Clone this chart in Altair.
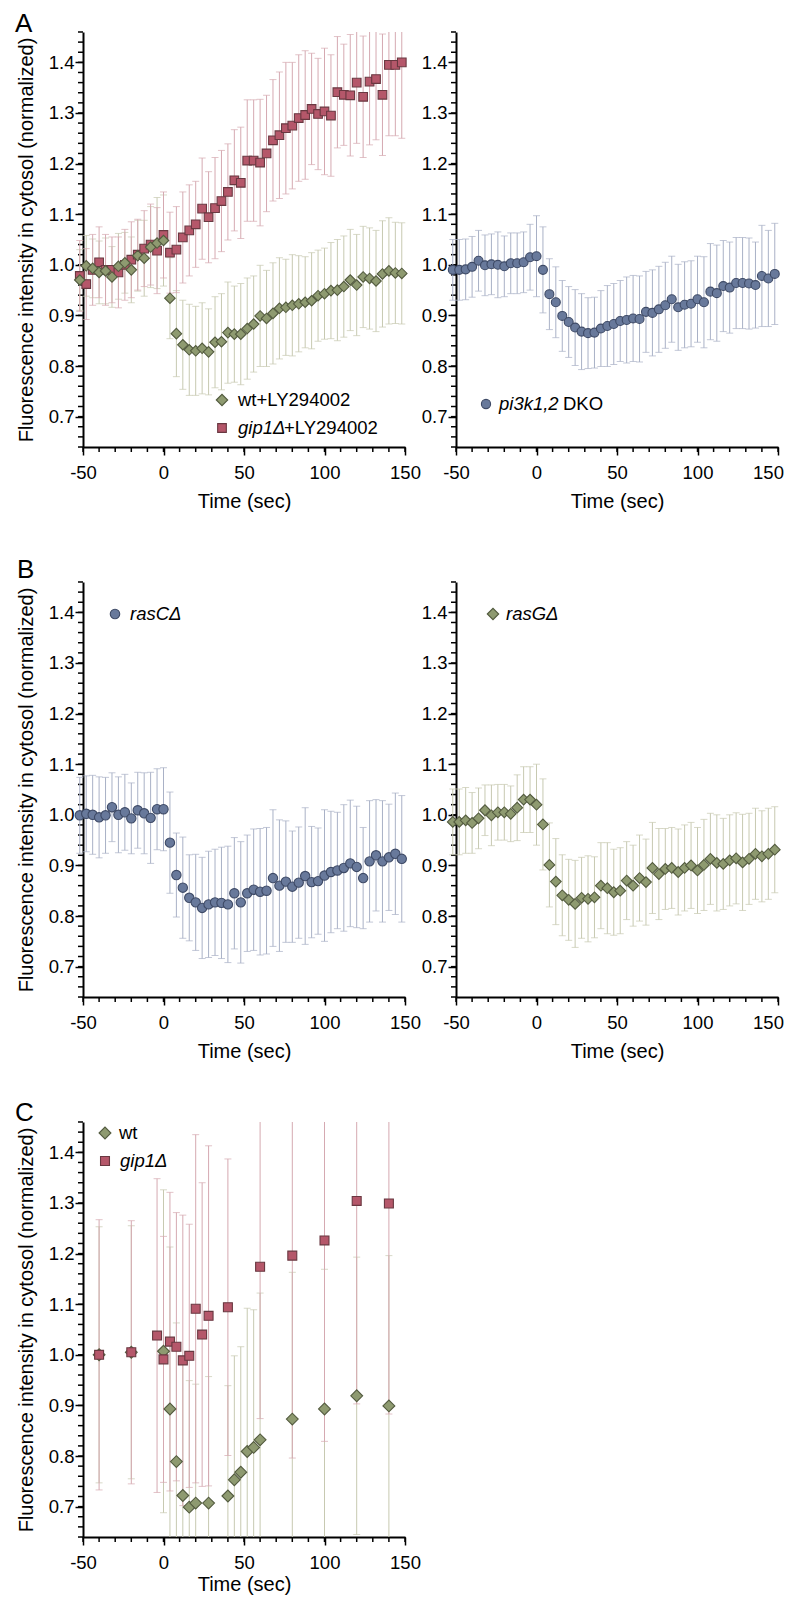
import altair as alt
import pandas as pd

FONT = "Liberation Sans"

# ---------------- data ----------------
T51 = list(range(-52, 149, 4))

A_wt = [0.970, 0.998, 0.993, 0.985, 0.988, 0.976, 0.997, 1.004, 0.990, 1.018, 1.013, 1.035, 1.043, 1.048,
        0.934, 0.864, 0.842, 0.832, 0.830, 0.835, 0.828, 0.847, 0.848, 0.866,
        0.863, 0.863, 0.874, 0.883, 0.899, 0.894, 0.904, 0.914, 0.916, 0.920,
        0.923, 0.926, 0.929, 0.939, 0.943, 0.949, 0.950, 0.957, 0.970, 0.960,
        0.976, 0.973, 0.968, 0.982, 0.988, 0.984, 0.983]
A_wt_err = [0.060, 0.060, 0.058, 0.062, 0.065, 0.060, 0.065, 0.060, 0.065, 0.070, 0.075, 0.080, 0.090, 0.090,
            0.080, 0.085, 0.088, 0.090, 0.088, 0.090, 0.085, 0.090, 0.095, 0.100,
            0.095, 0.100, 0.100, 0.095, 0.100, 0.095, 0.100, 0.100, 0.095, 0.100,
            0.095, 0.090, 0.095, 0.090, 0.090, 0.095, 0.100, 0.100, 0.100, 0.100,
            0.100, 0.100, 0.100, 0.105, 0.105, 0.100, 0.100]

A_gip = [0.978, 0.962, 0.990, 1.005, 0.990, 0.990, 0.985, 1.000, 1.010, 1.020, 1.032, 1.040, 1.028, 1.059,
         1.024, 1.030, 1.054, 1.068, 1.080, 1.111, 1.094, 1.112, 1.126, 1.144,
         1.167, 1.162, 1.206, 1.206, 1.202, 1.220, 1.246, 1.256, 1.270, 1.275,
         1.290, 1.296, 1.308, 1.298, 1.303, 1.295, 1.341, 1.336, 1.335, 1.360,
         1.332, 1.362, 1.367, 1.336, 1.395, 1.395, 1.400]
A_gip_err = [0.070, 0.070, 0.070, 0.070, 0.070, 0.065, 0.070, 0.070, 0.075, 0.070, 0.075, 0.080, 0.085, 0.085,
             0.080, 0.085, 0.090, 0.090, 0.085, 0.100, 0.090, 0.100, 0.100, 0.095,
             0.100, 0.110, 0.120, 0.120, 0.125, 0.115, 0.120, 0.125, 0.130, 0.125,
             0.125, 0.127, 0.110, 0.110, 0.125, 0.120, 0.110, 0.100, 0.120, 0.120,
             0.120, 0.125, 0.120, 0.120, 0.140, 0.140, 0.150]

A_pi = [0.990, 0.990, 0.991, 0.996, 1.008, 0.999, 1.001, 1.000, 0.997, 1.003, 1.003, 1.005, 1.015, 1.017,
        0.990, 0.942, 0.926, 0.899, 0.887, 0.876, 0.868, 0.865, 0.866, 0.874,
        0.879, 0.883, 0.889, 0.891, 0.894, 0.893, 0.907, 0.905, 0.912, 0.920,
        0.932, 0.916, 0.921, 0.923, 0.932, 0.926, 0.947, 0.944, 0.958, 0.955,
        0.964, 0.964, 0.963, 0.960, 0.978, 0.973, 0.982]
A_pi_err = [0.060, 0.060, 0.060, 0.060, 0.060, 0.060, 0.060, 0.065, 0.060, 0.060, 0.060, 0.060, 0.065, 0.080,
            0.085, 0.070, 0.070, 0.070, 0.070, 0.075, 0.075, 0.070, 0.070, 0.075,
            0.080, 0.080, 0.080, 0.085, 0.085, 0.085, 0.080, 0.085, 0.085, 0.085,
            0.085, 0.085, 0.085, 0.085, 0.085, 0.090, 0.095, 0.095, 0.090, 0.090,
            0.090, 0.090, 0.090, 0.085, 0.100, 0.095, 0.100]

B_rasC = [0.999, 1.002, 1.000, 0.995, 0.999, 1.015, 1.000, 1.005, 0.993, 1.009, 1.003, 0.994, 1.011, 1.011,
          0.945, 0.881, 0.856, 0.836, 0.827, 0.816, 0.823, 0.827, 0.826, 0.823,
          0.845, 0.827, 0.845, 0.852, 0.848, 0.850, 0.875, 0.860, 0.868, 0.858,
          0.866, 0.879, 0.867, 0.869, 0.880, 0.887, 0.890, 0.895, 0.904, 0.897,
          0.875, 0.908, 0.920, 0.908, 0.916, 0.923, 0.913]
B_rasC_err = [0.075, 0.075, 0.078, 0.080, 0.075, 0.068, 0.075, 0.075, 0.070, 0.075, 0.080, 0.090, 0.080, 0.082,
              0.100, 0.083, 0.100, 0.085, 0.095, 0.100, 0.105, 0.105, 0.110, 0.115,
              0.110, 0.120, 0.115, 0.120, 0.125, 0.125, 0.135, 0.130, 0.120, 0.110,
              0.110, 0.135, 0.110, 0.105, 0.130, 0.120, 0.115, 0.125, 0.125, 0.120,
              0.100, 0.120, 0.110, 0.120, 0.105, 0.120, 0.125]

B_rasG = [0.986, 0.986, 0.989, 0.984, 0.993, 1.009, 0.999, 1.005, 1.005, 1.002, 1.014, 1.030, 1.030, 1.020,
          0.981, 0.901, 0.868, 0.841, 0.832, 0.824, 0.836, 0.834, 0.837, 0.860,
          0.855, 0.847, 0.850, 0.870, 0.860, 0.875, 0.867, 0.895, 0.883, 0.893,
          0.895, 0.887, 0.895, 0.900, 0.890, 0.901, 0.913, 0.905, 0.903, 0.910,
          0.914, 0.906, 0.913, 0.923, 0.918, 0.923, 0.931]
B_rasG_err = [0.065, 0.065, 0.065, 0.060, 0.060, 0.050, 0.060, 0.055, 0.055, 0.055, 0.065, 0.065, 0.065, 0.080,
              0.090, 0.083, 0.085, 0.080, 0.080, 0.086, 0.080, 0.085, 0.080, 0.085,
              0.090, 0.085, 0.085, 0.077, 0.080, 0.085, 0.085, 0.090, 0.090, 0.080,
              0.080, 0.085, 0.085, 0.085, 0.085, 0.090, 0.090, 0.095, 0.090, 0.090,
              0.090, 0.095, 0.090, 0.090, 0.090, 0.090, 0.085]

C_wt_t = [-40, -20, 0, 4, 8, 12, 16, 20, 28, 40, 44, 48, 52, 56, 60, 80, 100, 120, 140]
C_wt = [1.000, 1.005, 1.007, 0.893, 0.789, 0.722, 0.699, 0.707, 0.707, 0.721, 0.753, 0.768, 0.809, 0.817,
        0.832, 0.873, 0.893, 0.919, 0.899]
C_wt_err = [0.253, 0.250, 0.319, 0.320, 0.274, 0.260, 0.250, 0.235, 0.250, 0.218, 0.245, 0.248, 0.283, 0.272,
            0.290, 0.290, 0.276, 0.274, 0.297]

C_gip_t = [-40, -20, -4, 0, 4, 8, 12, 16, 20, 24, 28, 40, 60, 80, 100, 120, 140]
C_gip = [1.000, 1.005, 1.038, 0.991, 1.026, 1.016, 0.989, 0.998, 1.091, 1.040, 1.077, 1.094, 1.174, 1.196,
         1.226, 1.304, 1.299]
C_gip_err = [0.267, 0.260, 0.310, 0.243, 0.295, 0.265, 0.287, 0.260, 0.344, 0.300, 0.336, 0.293, 0.300, 0.400,
             0.397, 0.401, 0.416]

X_MAJOR = [-50, 0, 50, 100, 150]
X_MINOR = list(range(-50, 151, 10))
Y_MAJOR = [0.7, 0.8, 0.9, 1.0, 1.1, 1.2, 1.3, 1.4]
Y_MINOR = [round(0.64 + 0.02 * k, 2) for k in range(42)]
XDOM = [-50, 150]
YDOM = [0.64, 1.46]
YTITLE = "Fluorescence intensity in cytosol (normalized)"

GREEN = dict(fill="#8e9a70", stroke="#535b3f", err="#c7c9b1")
RED = dict(fill="#b5576a", stroke="#693841", err="#d5a9b1")
BLUE = dict(fill="#68799b", stroke="#3e4a66", err="#a9b1c6")

W, H = 322, 415
ONE = pd.DataFrame({"a": [0]})


def frame(t, v, e):
    df = pd.DataFrame({"t": t, "v": v, "e": e})
    df["lo"] = df["v"] - df["e"]
    df["hi"] = df["v"] + df["e"]
    return df


def caps(df):
    rows = []
    for t, lo, hi in zip(df["t"], df["lo"], df["hi"]):
        if lo >= YDOM[0]:
            rows.append((t, lo))
        if hi <= YDOM[1]:
            rows.append((t, hi))
    return pd.DataFrame(rows, columns=["t", "y"])


def panel(series, point_order, legend, letter=None, letter_xy=(-68, -21), ytitle=True, yoff=0, xtp=10,
          right_col=False):
    xs = alt.Scale(domain=XDOM, nice=False, zero=False)
    ys = alt.Scale(domain=YDOM, nice=False, zero=False, clamp=True, range=[H + yoff, yoff])
    xkw = {}
    if right_col:
        # keep the last label of the right-hand column inside the page
        xkw["labelOffset"] = alt.condition("datum.value == 150", alt.value(-10), alt.value(0))
    major_x = alt.Axis(orient="bottom", values=X_MAJOR, title="Time (sec)", tickSize=8, tickWidth=1.5,
                       domainWidth=2, labelFontSize=18.5, titleFontSize=20, labelPadding=8, titlePadding=xtp,
                       labelFlush=False, grid=False, labelExpr="'' + datum.value", **xkw)
    major_y = alt.Axis(orient="left", values=Y_MAJOR, format=".1f", title=YTITLE if ytitle else None,
                       tickSize=8, tickWidth=1.5, domainWidth=2, labelFontSize=18.5, titleFontSize=20,
                       labelPadding=1, titlePadding=12, grid=False)
    layers = []
    # major axes come first; minor ticks drawn from the tick-value lists
    layers.append(alt.Chart(pd.DataFrame({"v": X_MINOR})).mark_rule(color="black", strokeWidth=1.5).encode(
        x=alt.X("v:Q", scale=xs, axis=major_x), y=alt.value(H + yoff), y2=alt.value(H + yoff + 5)))
    layers.append(alt.Chart(pd.DataFrame({"v": Y_MINOR})).mark_rule(color="black", strokeWidth=1.5).encode(
        y=alt.Y("v:Q", scale=ys, axis=major_y), x=alt.value(0), x2=alt.value(-5)))
    for s in series:
        df = s["df"]
        c = s["c"]
        layers.append(alt.Chart(df).mark_rule(color=c["err"], strokeWidth=1).encode(
            x=alt.X("t:Q", scale=xs),
            y=alt.Y("lo:Q", scale=ys),
            y2="hi:Q"))
        layers.append(alt.Chart(caps(df)).mark_tick(orient="horizontal", size=7, thickness=1,
                                                   color=c["err"]).encode(
            x=alt.X("t:Q", scale=xs),
            y=alt.Y("y:Q", scale=ys)))
    for idx in point_order:
        s = series[idx]
        c = s["c"]
        layers.append(alt.Chart(s["df"]).mark_point(
            shape=s["shape"], filled=True, fill=c["fill"], stroke=c["stroke"], strokeWidth=1.1,
            size=s["size"], opacity=1, fillOpacity=1).encode(
            x=alt.X("t:Q", scale=xs),
            y=alt.Y("v:Q", scale=ys)))
    for item in legend:
        c = item["c"]
        sx, sy = item["xy"]
        layers.append(alt.Chart(ONE).mark_point(
            shape=item["shape"], filled=True, fill=c["fill"], stroke=c["stroke"], strokeWidth=1.1,
            size=item["size"], opacity=1).encode(x=alt.value(sx), y=alt.value(sy + yoff)))
        for txt, italic, tx in item["parts"]:
            layers.append(alt.Chart(ONE).mark_text(
                text=txt, font=FONT, fontSize=18.5, align="left", baseline="middle", color="black",
                fontStyle="italic" if italic else "normal").encode(
                x=alt.value(tx), y=alt.value(sy + yoff)))
    if letter:
        layers.append(alt.Chart(ONE).mark_text(
            text=letter, font=FONT, fontSize=26, align="left", baseline="top", color="black").encode(
            x=alt.value(letter_xy[0]), y=alt.value(letter_xy[1] + yoff)))
    return alt.layer(*layers).properties(width=W, height=H + yoff)


A_left = panel(
    [dict(df=frame(T51, A_wt, A_wt_err), c=GREEN, shape="diamond", size=110),
     dict(df=frame(T51, A_gip, A_gip_err), c=RED, shape="square", size=75)],
    [1, 0],
    [dict(c=GREEN, shape="diamond", size=130, xy=(139, 368), parts=[("wt+LY294002", False, 155)]),
     dict(c=RED, shape="square", size=75, xy=(139, 396),
          parts=[("gip1Δ", True, 155), ("+LY294002", False, 201)])],
    letter="A")

A_right = panel(
    [dict(df=frame(T51, A_pi, A_pi_err), c=BLUE, shape="circle", size=80)],
    [0],
    [dict(c=BLUE, shape="circle", size=85, xy=(30, 372),
          parts=[("pi3k1,2", True, 43), ("DKO", False, 107)])],
    ytitle=False, right_col=True)

B_left = panel(
    [dict(df=frame(T51, B_rasC, B_rasC_err), c=BLUE, shape="circle", size=87)],
    [0],
    [dict(c=BLUE, shape="circle", size=90, xy=(32, 32), parts=[("rasCΔ", True, 47)])],
    letter="B", letter_xy=(-66, -25), yoff=10)

B_right = panel(
    [dict(df=frame(T51, B_rasG, B_rasG_err), c=GREEN, shape="diamond", size=115)],
    [0],
    [dict(c=GREEN, shape="diamond", size=130, xy=(37, 32), parts=[("rasGΔ", True, 50)])],
    ytitle=False, yoff=10, right_col=True)

C_left = panel(
    [dict(df=frame(C_wt_t, C_wt, C_wt_err), c=GREEN, shape="diamond", size=140),
     dict(df=frame(C_gip_t, C_gip, C_gip_err), c=RED, shape="square", size=80)],
    [0, 1],
    [dict(c=GREEN, shape="diamond", size=140, xy=(22, 11), parts=[("wt", False, 36)]),
     dict(c=RED, shape="square", size=80, xy=(22, 39), parts=[("gip1Δ", True, 37)])],
    letter="C", letter_xy=(-68, -22), xtp=3)

chart = alt.concat(
    A_left, A_right, B_left, B_right, C_left,
    columns=2, spacing=alt.RowColnumber(row=125, column=51), bounds="flush",
    padding={"left": 7, "top": 3, "right": 0, "bottom": 0},
).configure_axis(
    labelFont=FONT, titleFont=FONT, labelColor="black", titleColor="black",
    domainColor="black", tickColor="black", titleFontWeight="normal",
).configure_text(font=FONT).configure_view(stroke=None)

chart.save("out.html", embed_options={"renderer": "svg", "actions": False})
